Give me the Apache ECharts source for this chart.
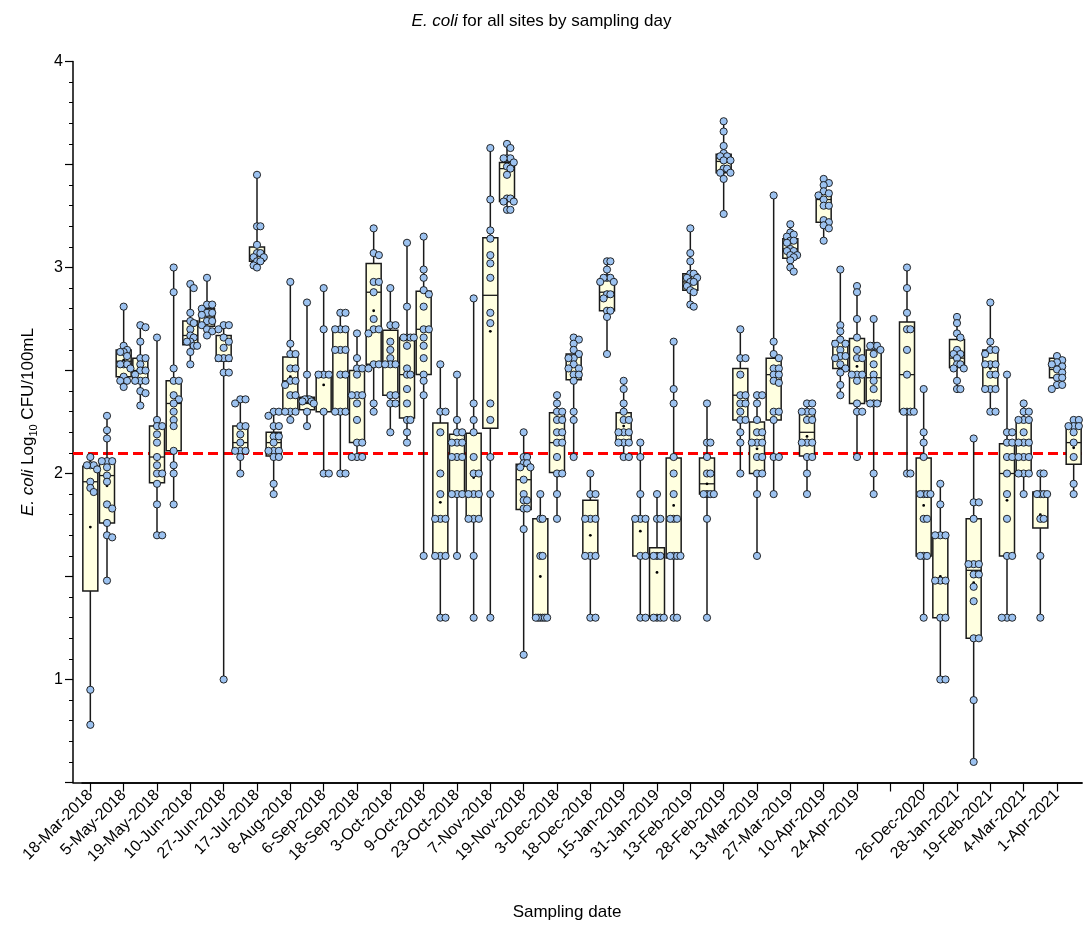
<!DOCTYPE html>
<html><head><meta charset="utf-8">
<script src="https://cdn.jsdelivr.net/npm/echarts@6/dist/echarts.min.js"></script>
<style>html,body{margin:0;padding:0;background:#fff}#c{width:1083px;height:930px}</style>
</head><body><div id="c"></div>
<script>
// Categories (sampling dates); labels shown on every other category
const categories = [
 '18-Mar-2018','', '5-May-2018','', '19-May-2018','', '10-Jun-2018','', '27-Jun-2018','',
 '17-Jul-2018','', '8-Aug-2018','', '6-Sep-2018','', '18-Sep-2018','', '3-Oct-2018','',
 '9-Oct-2018','', '23-Oct-2018','', '7-Nov-2018','', '19-Nov-2018','', '3-Dec-2018','',
 '18-Dec-2018','', '15-Jan-2019','', '31-Jan-2019','', '13-Feb-2019','', '28-Feb-2019','',
 '13-Mar-2019','', '27-Mar-2019','', '10-Apr-2019','', '24-Apr-2019','', '','',
 '26-Dec-2020','', '28-Jan-2021','', '19-Feb-2021','', '4-Mar-2021','', '1-Apr-2021',''
];
const lows = [0.78,1.48,2.42,2.33,1.70,1.85,2.53,2.67,1.00,2.00,
 3.00,1.90,2.26,2.23,2.00,2.00,2.08,2.30,2.20,2.15,
 1.60,1.30,1.60,1.30,1.30,3.28,1.12,1.30,1.78,2.08,
 1.30,2.58,2.08,1.30,1.30,1.30,2.81,1.30,3.26,2.00,
 1.60,1.90,2.98,1.90,3.13,2.38,2.08,1.90,null,2.00,
 1.30,1.00,2.41,0.60,2.30,1.30,1.90,1.30,2.41,1.90];
const q1s = [1.43,1.76,2.47,2.44,1.955,2.11,2.625,2.715,2.545,2.10,
 3.03,2.085,2.31,2.31,2.30,2.30,2.15,2.53,2.38,2.27,
 2.48,1.60,1.905,1.78,2.22,3.32,1.825,1.30,2.005,2.455,
 1.60,2.79,2.15,1.60,1.30,1.59,2.89,1.90,3.46,2.26,
 2.00,2.26,3.045,2.085,3.22,2.51,2.34,2.35,null,2.30,
 1.60,1.30,2.515,1.20,2.41,1.60,2.00,1.735,2.465,2.045];
const medians = [1.96,1.99,2.545,2.50,2.08,2.34,2.67,2.76,2.57,2.15,
 3.055,2.15,2.45,2.34,2.48,2.60,2.38,2.88,2.53,2.48,
 2.70,1.78,2.08,1.90,2.865,3.48,1.97,1.30,2.15,2.52,
 1.78,2.88,2.20,1.78,1.60,1.78,2.93,1.95,3.515,2.38,
 2.15,2.48,3.09,2.20,3.33,2.57,2.48,2.465,null,2.48,
 1.90,1.48,2.56,1.53,2.53,2.00,2.15,1.90,2.505,2.15];
const q3s = [2.035,2.07,2.60,2.56,2.23,2.45,2.74,2.80,2.67,2.23,
 3.10,2.20,2.565,2.37,2.49,2.71,2.50,3.02,2.695,2.66,
 2.885,2.245,2.19,2.195,3.145,3.51,2.045,1.78,2.295,2.58,
 1.87,2.945,2.295,1.79,1.64,2.075,2.97,2.075,3.55,2.51,
 2.25,2.56,3.14,2.295,3.355,2.645,2.655,2.60,null,2.735,
 2.075,1.70,2.65,1.78,2.60,2.145,2.27,1.91,2.56,2.23];
const highs = [2.08,2.28,2.81,2.72,2.66,3.00,2.92,2.95,2.72,2.36,
 3.45,2.30,2.93,2.83,2.90,2.78,2.68,3.19,2.90,3.12,
 3.15,2.53,2.48,2.85,3.58,3.60,2.20,1.90,2.38,2.66,
 2.00,3.03,2.45,2.15,1.90,2.64,3.19,2.34,3.71,2.70,
 2.38,3.35,3.21,2.34,3.43,2.99,2.91,2.75,null,3.00,
 2.41,1.95,2.76,2.17,2.83,2.48,2.34,2.00,2.57,2.26];
const means = [1.74,1.94,2.55,2.51,2.07,2.34,2.69,2.77,2.48,2.18,
 3.10,2.15,2.47,2.37,2.43,2.49,2.34,2.79,2.54,2.51,
 2.65,1.86,2.08,1.98,2.69,3.44,1.91,1.50,2.15,2.49,
 1.70,2.88,2.23,1.72,1.52,1.845,2.95,1.95,3.51,2.37,
 2.12,2.45,3.09,2.18,3.30,2.60,2.52,2.44,null,2.49,
 1.845,1.50,2.57,1.47,2.51,1.87,2.15,1.80,2.50,2.125];
const points = [
 [2.08,2.04,2.04,2.04,2.02,1.96,1.93,1.91,0.95,0.78],
 [2.28,2.21,2.17,2.06,2.06,2.06,2.03,1.99,1.96,1.85,1.83,1.76,1.70,1.69,1.48],
 [2.81,2.62,2.60,2.59,2.59,2.57,2.53,2.53,2.53,2.51,2.47,2.45,2.45,2.42],
 [2.72,2.71,2.64,2.56,2.56,2.53,2.50,2.50,2.48,2.45,2.45,2.45,2.40,2.39,2.33],
 [2.66,2.26,2.23,2.23,2.19,2.15,2.08,2.04,2.00,2.00,1.95,1.85,1.70,1.70],
 [3.00,2.88,2.51,2.45,2.45,2.38,2.36,2.34,2.30,2.26,2.23,2.11,2.04,2.00,1.85],
 [2.92,2.90,2.78,2.74,2.73,2.70,2.67,2.66,2.64,2.64,2.62,2.62,2.59,2.53],
 [2.95,2.82,2.82,2.80,2.78,2.78,2.77,2.74,2.74,2.72,2.70,2.69,2.67],
 [2.72,2.72,2.70,2.66,2.64,2.61,2.56,2.56,2.56,2.49,2.49,1.00],
 [2.36,2.36,2.34,2.23,2.23,2.19,2.15,2.11,2.11,2.11,2.08,2.00],
 [3.45,3.20,3.20,3.11,3.07,3.07,3.05,3.05,3.03,3.03,3.01,3.00],
 [2.30,2.30,2.28,2.23,2.23,2.18,2.18,2.15,2.11,2.11,2.11,2.08,2.08,1.95,1.90],
 [2.93,2.63,2.58,2.58,2.51,2.51,2.45,2.45,2.43,2.38,2.38,2.30,2.30,2.30,2.26],
 [2.83,2.48,2.36,2.36,2.36,2.35,2.35,2.34,2.30,2.23],
 [2.90,2.70,2.48,2.48,2.48,2.30,2.00,2.00],
 [2.78,2.78,2.70,2.70,2.70,2.60,2.60,2.60,2.48,2.48,2.30,2.30,2.30,2.00,2.00],
 [2.68,2.56,2.51,2.51,2.48,2.38,2.38,2.38,2.34,2.26,2.15,2.15,2.08,2.08,2.08],
 [3.19,3.07,3.06,2.93,2.93,2.88,2.75,2.70,2.70,2.68,2.53,2.53,2.51,2.34,2.30],
 [2.90,2.72,2.72,2.64,2.60,2.56,2.53,2.53,2.53,2.38,2.38,2.34,2.34,2.20],
 [3.12,2.81,2.66,2.66,2.66,2.66,2.62,2.51,2.48,2.48,2.41,2.34,2.26,2.26,2.20,2.15],
 [3.15,2.99,2.95,2.89,2.87,2.81,2.70,2.70,2.66,2.62,2.56,2.48,2.45,2.38,1.60],
 [2.53,2.30,2.30,2.20,2.00,1.90,1.78,1.78,1.78,1.60,1.60,1.60,1.30,1.30],
 [2.48,2.26,2.20,2.20,2.15,2.15,2.15,2.08,2.08,2.08,1.90,1.90,1.90,1.60],
 [2.85,2.34,2.26,2.20,2.08,2.00,2.00,1.90,1.90,1.90,1.78,1.78,1.78,1.60,1.30],
 [3.58,3.33,3.18,3.14,3.06,3.02,2.95,2.78,2.73,2.34,2.26,2.08,1.90,1.30],
 [3.60,3.58,3.53,3.53,3.53,3.51,3.49,3.48,3.45,3.335,3.335,3.32,3.32,3.28,3.28],
 [2.20,2.08,2.08,2.05,2.05,2.03,2.03,1.97,1.90,1.87,1.87,1.83,1.83,1.73,1.12],
 [1.90,1.78,1.78,1.60,1.60,1.30,1.30,1.30,1.30,1.30,1.30],
 [2.38,2.34,2.30,2.30,2.26,2.26,2.20,2.20,2.15,2.15,2.08,2.00,2.00,1.90,1.78],
 [2.66,2.65,2.63,2.60,2.58,2.56,2.56,2.53,2.51,2.51,2.48,2.48,2.45,2.30,2.26,2.08],
 [2.00,1.90,1.90,1.78,1.78,1.78,1.60,1.60,1.60,1.30,1.30],
 [3.03,3.03,2.99,2.95,2.95,2.95,2.93,2.93,2.87,2.87,2.85,2.79,2.79,2.76,2.58],
 [2.45,2.41,2.34,2.30,2.26,2.26,2.20,2.20,2.20,2.15,2.15,2.15,2.08,2.08],
 [2.15,2.08,1.90,1.78,1.78,1.78,1.60,1.60,1.30,1.30],
 [1.90,1.78,1.78,1.60,1.60,1.60,1.30,1.30,1.30,1.30],
 [2.64,2.41,2.34,2.08,2.00,1.90,1.78,1.78,1.78,1.60,1.60,1.60,1.60,1.30,1.30],
 [3.19,3.07,3.03,2.97,2.97,2.95,2.95,2.93,2.93,2.91,2.89,2.88,2.82,2.81],
 [2.34,2.15,2.15,2.08,2.00,2.00,1.90,1.90,1.90,1.90,1.78,1.30],
 [3.71,3.66,3.59,3.555,3.54,3.54,3.52,3.52,3.48,3.48,3.46,3.46,3.43,3.26],
 [2.70,2.56,2.56,2.48,2.38,2.38,2.34,2.34,2.30,2.26,2.26,2.20,2.15,2.00],
 [2.38,2.38,2.34,2.26,2.20,2.20,2.15,2.15,2.15,2.08,2.08,2.00,2.00,1.90,1.60],
 [3.35,2.64,2.58,2.56,2.51,2.51,2.48,2.48,2.45,2.44,2.30,2.30,2.26,2.08,2.08,1.90],
 [3.21,3.17,3.16,3.15,3.13,3.13,3.12,3.09,3.08,3.08,3.06,3.06,3.05,3.035,3.00,2.98],
 [2.34,2.34,2.30,2.30,2.30,2.26,2.26,2.15,2.15,2.15,2.08,2.08,2.00,1.90],
 [3.43,3.41,3.40,3.37,3.36,3.35,3.33,3.30,3.30,3.23,3.22,3.205,3.19,3.13],
 [2.99,2.72,2.69,2.65,2.63,2.63,2.60,2.57,2.57,2.56,2.53,2.51,2.49,2.43,2.38],
 [2.91,2.88,2.75,2.66,2.60,2.56,2.56,2.48,2.48,2.48,2.45,2.34,2.30,2.30,2.08],
 [2.75,2.62,2.62,2.62,2.60,2.58,2.53,2.48,2.45,2.41,2.34,2.34,2.34,2.00,1.90],
 [],
 [3.00,2.90,2.78,2.70,2.70,2.60,2.48,2.30,2.30,2.30,2.30,2.00,2.00],
 [2.41,2.20,2.15,2.08,1.90,1.90,1.90,1.90,1.78,1.78,1.60,1.60,1.60,1.30],
 [1.95,1.85,1.70,1.70,1.70,1.48,1.48,1.48,1.30,1.30,1.00,1.00],
 [2.76,2.73,2.68,2.66,2.60,2.58,2.58,2.56,2.53,2.53,2.51,2.51,2.45,2.41,2.41],
 [2.17,1.86,1.86,1.78,1.56,1.56,1.56,1.51,1.51,1.45,1.38,1.20,1.20,0.90,0.60],
 [2.83,2.64,2.60,2.60,2.58,2.53,2.53,2.53,2.48,2.48,2.41,2.41,2.41,2.30,2.30],
 [2.48,2.20,2.20,2.15,2.15,2.08,2.08,2.00,1.90,1.78,1.60,1.60,1.30,1.30,1.30],
 [2.34,2.30,2.30,2.26,2.26,2.26,2.20,2.15,2.15,2.15,2.08,2.08,2.08,2.00,2.00,2.00,1.90],
 [2.00,2.00,1.90,1.90,1.90,1.90,1.78,1.78,1.60,1.30],
 [2.57,2.55,2.54,2.53,2.52,2.505,2.49,2.465,2.465,2.43,2.43,2.41],
 [2.26,2.26,2.23,2.23,2.23,2.20,2.15,2.08,1.95,1.90]
];
const threshold = 2.1;

const FONT = '"Liberation Sans", Arial, sans-serif';
const chart = echarts.init(document.getElementById('c'), null, {renderer: 'canvas'});

const boxData = [];
categories.forEach((c, i) => {
  if (lows[i] == null) return;
  boxData.push([i, lows[i], q1s[i], medians[i], q3s[i], highs[i], means[i]]);
});

const option = {
  animation: false,
  backgroundColor: '#fff',
  textStyle: {fontFamily: FONT},
  title: {
    text: '{i|E. coli} for all sites by sampling day',
    left: 'center', top: 8,
    textStyle: {fontSize: 17, fontWeight: 'normal', color: '#000', fontFamily: FONT,
      rich: {i: {fontStyle: 'italic', fontSize: 17, color: '#000', fontFamily: FONT}}}
  },
  grid: [
    {left: 82, right: 1, top: 61.5, bottom: 147.5, containLabel: false},
    {left: 73, right: 1, top: 61.5, bottom: 147.5, containLabel: false}
  ],
  xAxis: [{
    type: 'category', data: categories, boundaryGap: true, gridIndex: 0,
    axisLine: {show: true, lineStyle: {color: '#000', width: 1.5}},
    axisTick: {show: true, alignWithLabel: true, interval: 1, length: 9, lineStyle: {color: '#000', width: 1.2}},
    axisLabel: {interval: 1, rotate: 45, fontSize: 16, color: '#000', margin: 10, fontFamily: FONT},
    splitLine: {show: false},
    name: 'Sampling date', nameLocation: 'middle', nameGap: 121,
    nameTextStyle: {fontSize: 17, color: '#000', fontFamily: FONT, padding: [0, 30, 0, 0]}
  }, {
    type: 'value', gridIndex: 1, min: 0, max: 1,
    axisLine: {show: true, lineStyle: {color: '#000', width: 1.5}},
    axisTick: {show: false}, axisLabel: {show: false}, splitLine: {show: false}
  }],
  yAxis: [{
    type: 'value', min: 0.5, max: 4, interval: 0.5, offset: 9, gridIndex: 0,
    axisLine: {show: true, lineStyle: {color: '#000', width: 1.5}},
    axisTick: {show: true, length: 8, lineStyle: {color: '#000', width: 1.2}},
    minorTick: {show: true, splitNumber: 5, length: 4, lineStyle: {color: '#000', width: 1}},
    splitLine: {show: false},
    axisLabel: {fontSize: 16, color: '#000', margin: 10, fontFamily: FONT,
      formatter: v => Math.abs(v - Math.round(v)) < 1e-6 ? String(Math.round(v)) : ''},
    name: '{i|E. coli} Log{s|10} CFU/100mL', nameLocation: 'middle', nameGap: 34, nameRotate: 90,
    nameTextStyle: {fontSize: 17, color: '#000', fontFamily: FONT, lineHeight: 22,
      rich: {
        i: {fontStyle: 'italic', fontSize: 17, color: '#000', fontFamily: FONT, lineHeight: 22},
        s: {fontSize: 11, color: '#000', fontFamily: FONT, verticalAlign: 'bottom', lineHeight: 22}
      }}
  }, {
    type: 'value', gridIndex: 1, min: 0.5, max: 4, show: false
  }],
  series: [
    {
      type: 'line', data: [], z: 1, xAxisIndex: 1, yAxisIndex: 1,
      markLine: {
        silent: true, symbol: 'none', z: 1, animation: false,
        label: {show: false},
        lineStyle: {color: '#FF0000', type: [10, 5], width: 3},
        data: [{yAxis: threshold}]
      }
    },
    {
      type: 'custom', name: 'box', z: 3, data: boxData, xAxisIndex: 0, yAxisIndex: 0,
      encode: {x: 0, y: [1, 2, 3, 4, 5, 6]},
      renderItem: (params, api) => {
        const idx = api.value(0);
        const pLow = api.coord([idx, api.value(1)]);
        const pQ1 = api.coord([idx, api.value(2)]);
        const pMed = api.coord([idx, api.value(3)]);
        const pQ3 = api.coord([idx, api.value(4)]);
        const pHigh = api.coord([idx, api.value(5)]);
        const pMean = api.coord([idx, api.value(6)]);
        const w = api.size([1, 0])[0] * 0.9;
        const x = pLow[0];
        return {type: 'group', children: [
          {type: 'line', shape: {x1: x, y1: pLow[1], x2: x, y2: pHigh[1]}, style: {stroke: '#1a1a1a', lineWidth: 1.5}},
          {type: 'rect', shape: {x: x - w / 2, y: pQ3[1], width: w, height: pQ1[1] - pQ3[1]},
            style: {fill: '#FFFFE0', stroke: '#1a1a1a', lineWidth: 1.5}},
          {type: 'line', shape: {x1: x - w / 2, y1: pMed[1], x2: x + w / 2, y2: pMed[1]}, style: {stroke: '#1a1a1a', lineWidth: 1.3}},
          {type: 'circle', shape: {cx: x, cy: pMean[1], r: 1.4}, style: {fill: '#000'}}
        ]};
      }
    }
  ]
};
chart.setOption(option);

// beeswarm horizontal offsets (pixels), computed through the y scale
const ppu = Math.abs(chart.convertToPixel({yAxisIndex: 0}, 1) - chart.convertToPixel({yAxisIndex: 0}, 2));
function swarm(vals, minDist, step, maxOff) {
  const order = vals.map((v, i) => i).sort((a, b) => vals[b] - vals[a]);
  const placed = [];
  const dx = new Array(vals.length).fill(0);
  for (const i of order) {
    const y = vals[i] * ppu;
    for (let k = 0; k < 40; k++) {
      const off = k === 0 ? 0 : (k % 2 ? 1 : -1) * Math.ceil(k / 2) * step;
      if (placed.every(p => Math.hypot(p.x - off, p.y - y) >= minDist)) {
        dx[i] = off; placed.push({x: off, y}); break;
      }
    }
  }
  const m = Math.max(0, ...dx.map(Math.abs));
  if (m > maxOff) for (let i = 0; i < dx.length; i++) dx[i] *= maxOff / m;
  return dx;
}
const ptData = [];
points.forEach((vals, i) => {
  const dx = swarm(vals, 4.6, 5.2, 6.8);
  vals.forEach((v, j) => ptData.push([i, v, dx[j]]));
});
chart.setOption({series: [{}, {}, {
  type: 'custom', name: 'points', z: 4, data: ptData, xAxisIndex: 0, yAxisIndex: 0,
  encode: {x: 0, y: 1},
  renderItem: (params, api) => {
    const p = api.coord([api.value(0), api.value(1)]);
    return {type: 'circle', shape: {cx: p[0] + api.value(2), cy: p[1], r: 3.6},
      style: {fill: '#9CC2F0', stroke: '#111', lineWidth: 0.9}};
  }
}]});
</script>
</body></html>
